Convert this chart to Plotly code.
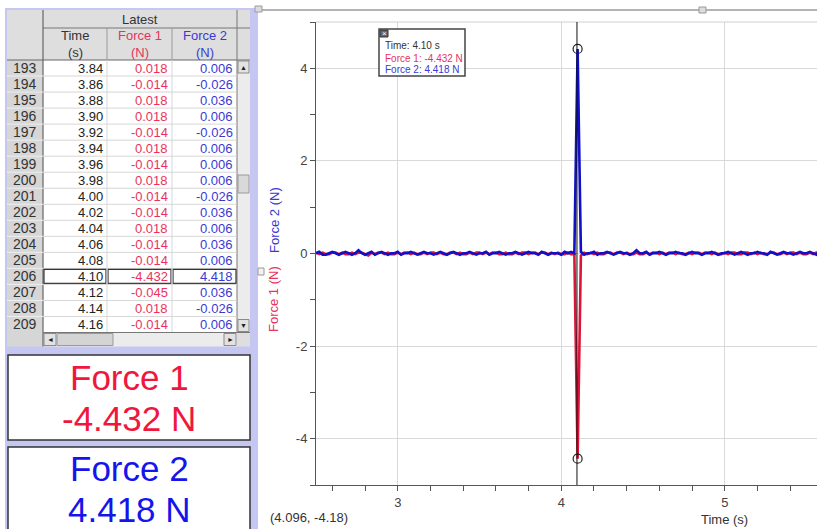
import plotly.graph_objects as go

# ---------------- data ----------------
times = [
    2.50, 2.52, 2.54, 2.56, 2.58, 2.60, 2.62, 2.64, 2.66, 2.68,
    2.70, 2.72, 2.74, 2.76, 2.78, 2.80, 2.82, 2.84, 2.86, 2.88,
    2.90, 2.92, 2.94, 2.96, 2.98, 3.00, 3.02, 3.04, 3.06, 3.08,
    3.10, 3.12, 3.14, 3.16, 3.18, 3.20, 3.22, 3.24, 3.26, 3.28,
    3.30, 3.32, 3.34, 3.36, 3.38, 3.40, 3.42, 3.44, 3.46, 3.48,
    3.50, 3.52, 3.54, 3.56, 3.58, 3.60, 3.62, 3.64, 3.66, 3.68,
    3.70, 3.72, 3.74, 3.76, 3.78, 3.80, 3.82, 3.84, 3.86, 3.88,
    3.90, 3.92, 3.94, 3.96, 3.98, 4.00, 4.02, 4.04, 4.06, 4.08,
    4.10, 4.12, 4.14, 4.16, 4.18, 4.20, 4.22, 4.24, 4.26, 4.28,
    4.30, 4.32, 4.34, 4.36, 4.38, 4.40, 4.42, 4.44, 4.46, 4.48,
    4.50, 4.52, 4.54, 4.56, 4.58, 4.60, 4.62, 4.64, 4.66, 4.68,
    4.70, 4.72, 4.74, 4.76, 4.78, 4.80, 4.82, 4.84, 4.86, 4.88,
    4.90, 4.92, 4.94, 4.96, 4.98, 5.00, 5.02, 5.04, 5.06, 5.08,
    5.10, 5.12, 5.14, 5.16, 5.18, 5.20, 5.22, 5.24, 5.26, 5.28,
    5.30, 5.32, 5.34, 5.36, 5.38, 5.40, 5.42, 5.44, 5.46, 5.48,
    5.50, 5.52, 5.54, 5.56, 5.58,
]
force1 = [
    0.018, -0.014, 0.018, -0.014, -0.014, 0.018, 0.018, -0.014, 0.018, -0.014,
    -0.014, 0.018, -0.014, 0.018, 0.018, -0.014, -0.045, 0.018, -0.014, 0.018,
    0.018, -0.014, 0.018, -0.014, -0.014, 0.018, -0.014, 0.018, 0.018, -0.014,
    0.018, -0.014, -0.014, 0.018, -0.014, 0.018, 0.018, -0.014, 0.018, -0.014,
    -0.014, 0.018, 0.018, -0.014, 0.018, -0.014, -0.014, 0.018, -0.014, 0.018,
    0.018, -0.014, 0.018, -0.014, 0.018, 0.018, -0.014, -0.014, 0.018, -0.014,
    -0.014, 0.018, -0.014, 0.018, 0.018, -0.014, 0.018, 0.018, -0.014, 0.018,
    0.018, -0.014, 0.018, -0.014, 0.018, -0.014, -0.014, 0.018, -0.014, -0.014,
    -4.432, -0.045, 0.018, -0.014, 0.018, -0.014, 0.018, -0.014, -0.014, 0.018,
    0.018, -0.014, 0.018, 0.018, -0.014, 0.018, -0.014, -0.014, 0.018, -0.014,
    -0.014, 0.018, -0.014, 0.018, 0.018, -0.014, 0.018, -0.014, 0.018, 0.018,
    -0.014, 0.018, -0.014, -0.014, 0.018, -0.014, 0.018, 0.018, -0.014, 0.018,
    0.018, -0.014, 0.018, -0.014, -0.014, 0.018, -0.014, 0.018, 0.018, -0.014,
    -0.014, 0.018, 0.018, -0.014, 0.018, -0.014, 0.018, -0.014, -0.014, 0.018,
    0.018, -0.014, -0.014, 0.018, -0.014, 0.018, 0.018, -0.014, 0.018, -0.014,
    -0.014, 0.018, -0.014, 0.018, 0.018,
]
force2 = [
    0.006, 0.036, -0.026, -0.026, 0.006, 0.036, 0.006, -0.026, 0.006, 0.036,
    0.006, -0.026, 0.006, 0.068, 0.006, -0.026, 0.006, 0.036, -0.026, 0.006,
    0.036, 0.006, -0.026, 0.006, 0.006, 0.036, -0.026, 0.006, 0.006, 0.036,
    0.006, -0.026, 0.006, 0.036, 0.006, 0.006, -0.026, 0.006, 0.036, 0.006,
    -0.026, 0.006, 0.036, 0.006, -0.026, 0.006, 0.006, 0.036, 0.006, -0.026,
    0.006, 0.006, 0.036, -0.026, 0.006, 0.006, 0.036, 0.006, -0.026, 0.006,
    0.006, 0.036, 0.006, -0.026, 0.006, 0.036, 0.006, 0.006, -0.026, 0.036,
    0.006, -0.026, 0.006, 0.006, 0.006, -0.026, 0.036, 0.006, 0.036, 0.006,
    4.418, 0.036, -0.026, 0.006, 0.006, 0.036, -0.026, 0.006, 0.006, 0.036,
    0.006, -0.026, 0.006, 0.036, 0.006, 0.006, -0.026, 0.006, 0.068, 0.006,
    0.006, 0.036, -0.026, 0.006, 0.006, 0.036, 0.006, -0.026, 0.006, 0.006,
    0.036, 0.006, 0.006, -0.026, 0.006, 0.036, 0.006, 0.006, -0.026, 0.006,
    0.006, 0.036, 0.006, -0.026, 0.006, 0.006, 0.036, 0.006, -0.026, 0.006,
    0.036, 0.006, -0.026, 0.006, 0.006, 0.036, 0.006, 0.006, -0.026, 0.036,
    0.006, -0.026, 0.006, 0.036, 0.006, 0.006, -0.026, 0.006, 0.036, 0.006,
    0.006, 0.036, 0.006, -0.026, 0.068,
]

first_table_row = 193          # row number of first visible table row
first_table_time = 3.84        # time of that row
table_row_count = 17
selected_row = 206             # highlighted row (examine cursor)
cursor_time = 4.10
mouse_readout = (4.096, -4.18)
x_ticks = [3, 4, 5]
y_ticks = [-4, -2, 0, 2, 4]
x_range = [2.5, 5.564]
y_range = [-5, 5]

# ---------------- helpers ----------------
W, H = 817, 529
FONT = "Liberation Sans, Arial, sans-serif"
RED_LINE = "#dc1438"
BLUE_LINE = "#1010c8"
RED_TXT = "#e8345c"
BLUE_TXT = "#3a3ad2"
LAV = "#c6c6f2"


def X(p):
    return p / W


def Y(p):
    return 1 - p / H


shapes = []
ann = []


def rect(x0, y0, x1, y1, fill=None, line=None, lw=1):
    shapes.append(dict(type="rect", xref="paper", yref="paper",
                       x0=X(x0), x1=X(x1), y0=Y(y1), y1=Y(y0),
                       fillcolor=fill if fill else "rgba(0,0,0,0)",
                       line=dict(color=line if line else "rgba(0,0,0,0)",
                                 width=lw if line else 0),
                       layer="above"))


def seg(x0, y0, x1, y1, color, w=1):
    shapes.append(dict(type="line", xref="paper", yref="paper",
                       x0=X(x0), x1=X(x1), y0=Y(y0), y1=Y(y1),
                       line=dict(color=color, width=w), layer="above"))


def text(x, y, s, size=13, color="#222", xa="center", ya="middle", angle=0):
    ann.append(dict(x=X(x), y=Y(y), xref="paper", yref="paper", text=s,
                    showarrow=False, xanchor=xa, yanchor=ya, textangle=angle,
                    font=dict(family=FONT, size=size, color=color)))


# ---------------- left panel: table ----------------
rect(5, 8, 258, 540, fill=LAV)
cx = [7, 43, 107, 172, 237, 250]
top, hdr1, hdr2 = 10, 28, 60
row_h = 16.03
data_bottom = hdr2 + table_row_count * row_h
hs_bottom = data_bottom + 14

rect(7, top, 250, hdr2, fill="#dedede")
rect(7, hdr2, 43, hs_bottom, fill="#d6d6d6")
rect(43, hdr2, 237, data_bottom, fill="#ffffff")
rect(237, hdr2, 250, data_bottom, fill="#ececec")
rect(43, data_bottom, 237, hs_bottom, fill="#ececec")
rect(237, data_bottom, 250, hs_bottom, fill="#dedede")

# header texts
text((cx[1] + cx[4]) / 2, 19, "Latest", 13, "#333")
hdr_cols = [("Time", "(s)", "#333"), ("Force 1", "(N)", RED_TXT), ("Force 2", "(N)", BLUE_TXT)]
for k, (a, b, c) in enumerate(hdr_cols):
    xm = (cx[k + 1] + cx[k + 2]) / 2
    text(xm, 36, a, 13, c)
    text(xm, 52, b, 13, c)

# header lines
seg(43, hdr1, 250, hdr1, "#777", 1)
seg(7, hdr2, 250, hdr2, "#666", 1.2)
seg(107, hdr1, 107, hdr2, "#9a9a9a", 1)
seg(172, hdr1, 172, hdr2, "#9a9a9a", 1)
seg(237, top, 237, data_bottom, "#777", 1)
seg(43, top, 43, hs_bottom, "#666", 1.2)

# data rows
start = min(range(len(times)), key=lambda i: abs(times[i] - first_table_time))
for j in range(table_row_count):
    i = start + j
    y0 = hdr2 + j * row_h
    yc = y0 + row_h / 2
    rown = first_table_row + j
    text(25, yc, str(rown), 14, "#333")
    text(105, yc, f"{times[i]:.2f}", 13, "#222", xa="right")
    text(170, yc, f"{force1[i]:.3f}", 13, RED_TXT, xa="right")
    text(235, yc, f"{force2[i]:.3f}", 13, BLUE_TXT, xa="right")
    if j > 0:
        seg(43, y0, 237, y0, "#d6d6d6", 1)
        seg(7, y0, 43, y0, "#eeeeee", 1)
    if rown == selected_row:
        rect(44, y0 + 1, 106, y0 + row_h - 1, line="#333", lw=1.2)
        rect(108, y0 + 1, 171, y0 + row_h - 1, line="#333", lw=1.2)
        rect(173, y0 + 1, 236, y0 + row_h - 1, line="#333", lw=1.2)
seg(107, hdr2, 107, data_bottom, "#d6d6d6", 1)
seg(172, hdr2, 172, data_bottom, "#d6d6d6", 1)
seg(43, data_bottom, 250, data_bottom, "#777", 1)

# scrollbars
rect(238, 61, 249, 73, fill="#e2e2e2", line="#8a8a8a")
text(243.5, 67, "▲", 7, "#222")
rect(238, data_bottom - 13, 249, data_bottom - 1, fill="#e2e2e2", line="#8a8a8a")
text(243.5, data_bottom - 7, "▼", 7, "#222")
rect(238, 175, 249, 193, fill="#d9d9d9", line="#9a9a9a")
rect(44, data_bottom + 1, 56, hs_bottom - 1, fill="#e2e2e2", line="#8a8a8a")
text(50, data_bottom + 7, "◄", 7, "#222")
rect(57, data_bottom + 1, 113, hs_bottom - 1, fill="#d4d4d4", line="#9a9a9a")
rect(224, data_bottom + 1, 236, hs_bottom - 1, fill="#e2e2e2", line="#8a8a8a")
text(230, data_bottom + 7, "►", 7, "#222")

# ---------------- meters ----------------
ci = times.index(cursor_time)
rect(8, 355, 250, 440, fill="#ffffff", line="#333", lw=1.5)
rect(8, 447, 250, 545, fill="#ffffff", line="#333", lw=1.5)
text(129, 377, "Force 1", 35, "#f0163c")
text(129, 418, f"{force1[ci]:.3f} N", 35, "#f0163c")
text(129, 468, "Force 2", 35, "#1414ec")
text(129, 509, f"{force2[ci]:.3f} N", 35, "#1414ec")

# ---------------- graph panel decorations ----------------
seg(262, 10, 817, 10, "#b4b4b4", 2)
seg(316, 22, 817, 22, "#d0d0d0", 1)
rect(699, 7, 706, 13, fill="#dcdcdc", line="#999")
rect(255, 6, 262, 12, fill="#dcdcdc", line="#999")
rect(258, 268, 264, 275, fill="#f2f2f2", line="#999")

text(274, 220, "Force 2 (N)", 13, BLUE_TXT, angle=-90)
text(273, 299, "Force 1 (N)", 13, RED_TXT, angle=-90)
text(268, 517, f"({mouse_readout[0]:.3f}, {mouse_readout[1]:.2f})", 13, "#333", xa="left")
text(724, 519, "Time (s)", 13, "#333")

# examine box
rect(379, 29, 465, 76, fill="#ffffff", line="#444", lw=1.5)
rect(380, 30, 388, 37, fill="#666", line="#333")
text(384, 33.5, "×", 8, "#fff")
text(383, 46, f"Time: {times[ci]:.2f} s", 10, "#333", xa="left")
text(383, 58, f"Force 1: {force1[ci]:.3f} N", 10, RED_TXT, xa="left")
text(383, 70, f"Force 2: {force2[ci]:.3f} N", 10, BLUE_TXT, xa="left")

# cursor line (data coords)
shapes.append(dict(type="line", xref="x", yref="y", x0=mouse_readout[0], x1=mouse_readout[0],
                   y0=y_range[0], y1=y_range[1], line=dict(color="#111", width=1), layer="above"))

# ---------------- figure ----------------
fig = go.Figure()
fig.add_trace(go.Scatter(x=times, y=force1, mode="lines",
                         line=dict(color=RED_LINE, width=2.6), showlegend=False))
fig.add_trace(go.Scatter(x=times, y=force2, mode="lines",
                         line=dict(color=BLUE_LINE, width=2.6), showlegend=False))
fig.add_trace(go.Scatter(x=[times[ci], times[ci]], y=[force2[ci], force1[ci]], mode="markers",
                         marker=dict(symbol="circle-open", size=9, color="#222",
                                     line=dict(width=1.2)), showlegend=False))

axis_common = dict(showline=True, linecolor="#555", linewidth=1, ticks="outside",
                   ticklen=5, tickcolor="#555", showgrid=True, gridcolor="#d9d9d9",
                   zeroline=False, tickfont=dict(family=FONT, size=13, color="#444"))
fig.update_layout(
    width=W, height=H, margin=dict(l=0, r=0, t=0, b=0),
    paper_bgcolor="#ffffff", plot_bgcolor="#ffffff",
    font=dict(family=FONT),
    xaxis=dict(domain=[X(316), 1], range=x_range, tickvals=x_ticks,
               ticktext=[str(v) for v in x_ticks],
               minor=dict(dtick=0.2, tick0=0, ticks="outside", ticklen=5,
                          tickcolor="#555", showgrid=False),
               **axis_common),
    yaxis=dict(domain=[Y(485), Y(22)], range=y_range, tickvals=y_ticks,
               ticktext=[str(v) for v in y_ticks],
               minor=dict(dtick=1, tick0=0, ticks="outside", ticklen=5,
                          tickcolor="#555", showgrid=False),
               **axis_common),
    shapes=shapes, annotations=ann,
)

fig.write_html("out.html", config={"displayModeBar": False},
               post_script="document.body.style.margin='0';document.body.style.overflow='hidden';")
